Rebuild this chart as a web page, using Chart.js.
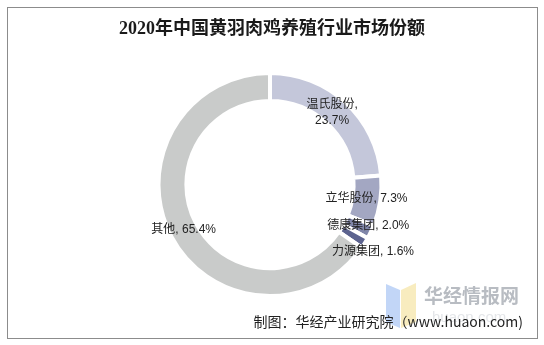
<!DOCTYPE html>
<html>
<head>
<meta charset="utf-8">
<script src="https://cdn.jsdelivr.net/npm/chart.js@4"></script>
<style>
  html, body { margin: 0; padding: 0; background: #fff; }
  #wrap { width: 544px; height: 345px; position: relative; }
</style>
</head>
<body>
<div id="wrap"><canvas id="pie"></canvas></div>
<script>
// data
const categories = ["温氏股份", "立华股份", "德康集团", "力源集团", "其他"];
const shares = [23.7, 7.3, 2.0, 1.6, 65.4];
const sliceColors = ["#c4c7da", "#a3a7c2", "#8086a9", "#5c638f", "#c9cbca"];
const titleText = "2020年中国黄羽肉鸡养殖行业市场份额";
const sourceText = "制图：华经产业研究院（www.huaon.com)";

// label nudges (x, y) from the arc centre, small slices are crowded
const labelShift = [[-4, 0], [0, 0], [10, 0], [20, 16], [0, 0]];

// frame, title, footer, watermark
const decorPlugin = {
    id: "decor",
    beforeDraw(chart) {
        const c = chart.ctx;
        c.save();
        c.fillStyle = "#fff";
        c.fillRect(0, 0, chart.width, chart.height);
        c.strokeStyle = "#8c8c8c";
        c.lineWidth = 1;
        c.strokeRect(7.5, 7.5, 530, 331);

        // watermark logo
        c.globalAlpha = 0.55;
        c.fillStyle = "#8fb4f0";
        c.beginPath();
        c.moveTo(386, 284); c.lineTo(400, 290); c.lineTo(400, 328); c.lineTo(386, 322);
        c.closePath(); c.fill();
        c.fillStyle = "#f3dc8a";
        c.beginPath();
        c.moveTo(401, 290); c.lineTo(416, 283); c.lineTo(416, 322); c.lineTo(401, 328);
        c.closePath(); c.fill();
        c.globalAlpha = 1;
        c.fillStyle = "#b8bcc2";
        c.font = "bold 19px 'Noto Sans CJK SC'";
        c.textAlign = "left";
        c.textBaseline = "middle";
        c.fillText("华经情报网", 424, 296);
        c.fillStyle = "#e4e6e9";
        c.font = "15px 'Liberation Sans'";
        c.fillText("huaon.com", 432, 318);
        c.restore();
    },
    afterDraw(chart) {
        const c = chart.ctx;
        c.save();
        c.fillStyle = "#1a1a1a";
        c.textAlign = "center";
        c.textBaseline = "middle";
        c.font = "bold 18px 'Liberation Serif', 'Noto Sans CJK SC'";
        c.fillText(titleText, 272, 29);

        c.textAlign = "right";
        c.fillStyle = "#222";
        c.font = "14px 'Noto Sans CJK SC', 'Liberation Sans'";
        c.fillText(sourceText, 523, 322);

        // slice labels at the ring centre of each arc
        const meta = chart.getDatasetMeta(0);
        c.font = "12px 'Liberation Sans', 'Noto Sans CJK SC'";
        c.textAlign = "center";
        c.fillStyle = "#222";
        meta.data.forEach((arc, i) => {
            const p = arc.tooltipPosition();
            const name = categories[i] + ",";
            const pct = shares[i].toFixed(1) + "%";
            const x = p.x + labelShift[i][0];
            const y = p.y + labelShift[i][1];
            if (i === 0) {
                c.fillText(name, x, y - 8);
                c.fillText(pct, x, y + 8);
            } else {
                c.fillText(name + " " + pct, x, y);
            }
        });
        c.restore();
    }
};

new Chart(document.getElementById("pie"), {
    type: "doughnut",
    data: {
        labels: categories,
        datasets: [{
            data: shares,
            backgroundColor: sliceColors,
            borderColor: "#fff",
            borderWidth: 4
        }]
    },
    options: {
        responsive: true,
        maintainAspectRatio: false,
        animation: false,
        cutout: "75%",
        layout: { padding: { top: 71, bottom: 47, left: 100, right: 104 } },
        plugins: {
            legend: { display: false },
            title: { display: false },
            tooltip: { enabled: false }
        }
    },
    plugins: [decorPlugin]
});
</script>
</body>
</html>
